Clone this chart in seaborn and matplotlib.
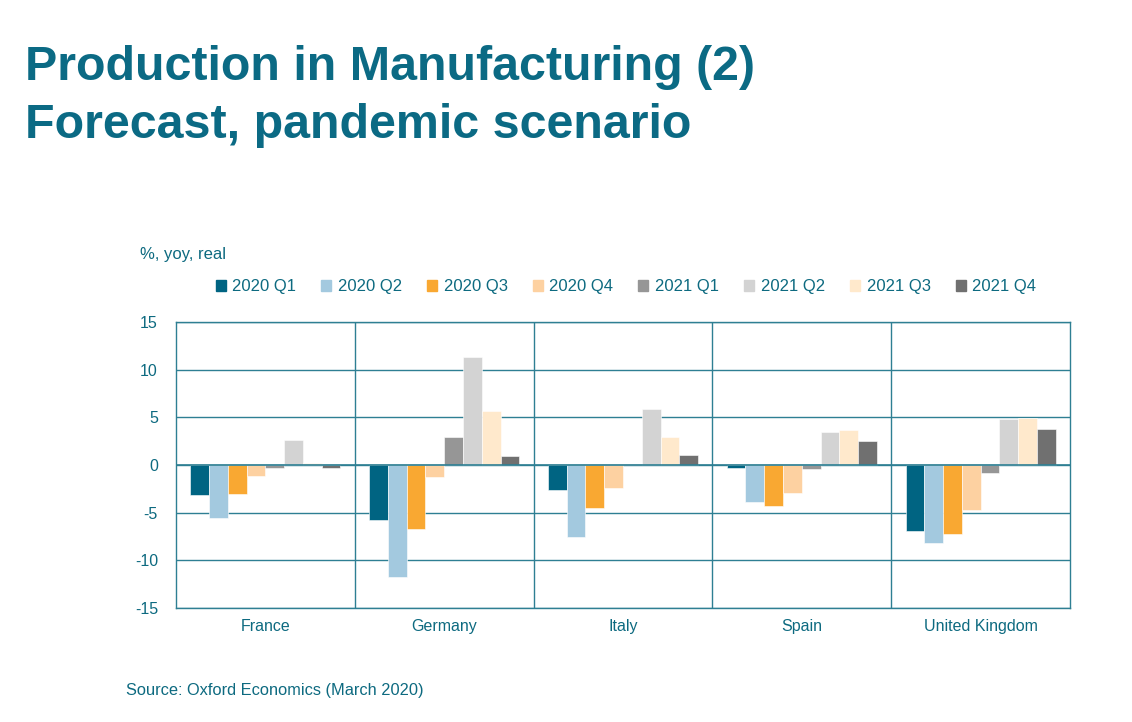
import seaborn as sns
import matplotlib.pyplot as plt
import pandas as pd
import numpy as np

# data (% yoy, real)
countries = ['France', 'Germany', 'Italy', 'Spain', 'United Kingdom']
quarters = ['2020 Q1', '2020 Q2', '2020 Q3', '2020 Q4',
            '2021 Q1', '2021 Q2', '2021 Q3', '2021 Q4']
france = [-3.1, -5.6, -3.0, -1.2, -0.3, 2.6, 0.2, -0.3]
germany = [-5.8, -11.8, -6.7, -1.3, 2.9, 11.3, 5.7, 0.9]
italy = [-2.6, -7.6, -4.5, -2.4, 0.1, 5.9, 2.9, 1.1]
spain = [-0.3, -3.9, -4.3, -2.9, -0.4, 3.5, 3.7, 2.5]
uk = [-6.9, -8.2, -7.2, -4.7, -0.8, 4.8, 4.9, 3.8]
yticks = [-15, -10, -5, 0, 5, 10, 15]

colors = ['#006482', '#A3C9DF', '#F9A832', '#FDD1A1',
          '#969696', '#D3D3D3', '#FFE9CC', '#707070']
teal = '#0D6A80'
grid_c = '#2E7F93'

rows = []
for c, vals in zip(countries, [france, germany, italy, spain, uk]):
    for q, v in zip(quarters, vals):
        rows.append({'country': c, 'quarter': q, 'value': v})
df = pd.DataFrame(rows)

sns.set_style('white')
plt.rcParams['font.family'] = ['Liberation Sans', 'DejaVu Sans']

fig = plt.figure(figsize=(11.32, 7.22), dpi=100)
ax = fig.add_axes([176/1132, 1-608/722, 894/1132, 286/722])

sns.barplot(data=df, x='country', y='value', hue='quarter', hue_order=quarters,
            palette=colors, saturation=1, width=0.84, ax=ax, legend=False,
            edgecolor='white', linewidth=0.4, zorder=3)

ax.set_ylim(-15, 15)
ax.set_xlim(-0.5, len(countries) - 0.5)
ax.set_yticks(yticks)
ax.set_yticklabels([str(t) for t in yticks])
ax.set_xlabel('')
ax.set_ylabel('')

# horizontal grid & category separators
for t in yticks:
    ax.axhline(t, color=grid_c, lw=1, zorder=1)
for i in range(1, len(countries)):
    ax.axvline(i - 0.5, color=grid_c, lw=1, zorder=1)
ax.axhline(0, color=grid_c, lw=1.2, zorder=4)
for s in ax.spines.values():
    s.set_color(grid_c)
    s.set_linewidth(1)

ax.tick_params(axis='y', length=0, labelsize=11.5, labelcolor=teal, pad=13)
ax.tick_params(axis='x', length=0, labelsize=11.5, labelcolor=teal, pad=8)

# legend
handles = [plt.Rectangle((0, 0), 1, 1, color=c) for c in colors]
fig.legend(handles, quarters, loc='center', bbox_to_anchor=(0.553, 1-287/722),
           ncol=8, frameon=False, fontsize=12, handlelength=0.6, handleheight=0.6,
           handletextpad=0.4, columnspacing=1.5, labelcolor=teal)

fig.text(140/1132, 1-254/722, '%, yoy, real', fontsize=12, color=teal, va='center')

fig.text(25/1132, 1-80/722, 'Production in Manufacturing (2)', fontsize=34.8,
         fontweight='bold', color='#0B6A84', va='baseline')
fig.text(25/1132, 1-138/722, 'Forecast, pandemic scenario', fontsize=34.8,
         fontweight='bold', color='#0B6A84', va='baseline')

fig.text(126/1132, 1-691/722, 'Source: Oxford Economics (March 2020)', fontsize=11.8,
         color=teal, va='center')

fig.savefig('out.png', dpi=100)
